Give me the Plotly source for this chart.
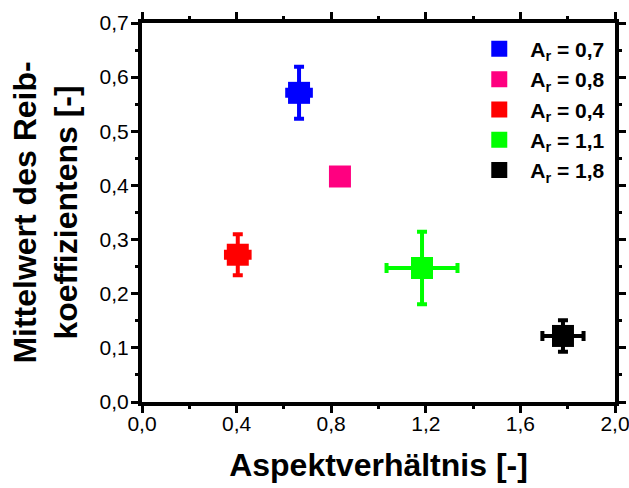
import plotly.graph_objects as go

labels = ["A<sub>r</sub> = 0,7", "A<sub>r</sub> = 0,8", "A<sub>r</sub> = 0,4", "A<sub>r</sub> = 1,1", "A<sub>r</sub> = 1,8"]
colors = ["#0000FF", "#FF0080", "#FF0000", "#00FF00", "#000000"]
x_vals = [0.664, 0.837, 0.405, 1.184, 1.78]
y_vals = [0.571, 0.4165, 0.272, 0.2475, 0.122]
x_err = [0.05, 0.0, 0.05, 0.15, 0.087]
y_err = [0.048, 0.0, 0.038, 0.067, 0.029]

FONT = "Liberation Sans, Arial, sans-serif"

fig = go.Figure()
for lab, c, x, y, ex, ey in zip(labels, colors, x_vals, y_vals, x_err, y_err):
    fig.add_trace(go.Scatter(
        x=[x], y=[y], mode="markers", name=lab,
        marker=dict(symbol="square", size=22, color=c, line=dict(width=0)),
        error_x=dict(type="data", array=[ex], visible=ex > 0, color=c, thickness=4, width=5),
        error_y=dict(type="data", array=[ey], visible=ey > 0, color=c, thickness=4, width=5),
    ))

axis_common = dict(
    showline=True, linewidth=4, linecolor="black", mirror="allticks",
    ticks="outside", ticklen=7, tickwidth=3, tickcolor="black",
    showgrid=False, zeroline=False,
    tickfont=dict(family=FONT, size=21, color="black"),
    tickformat=".1f",
    ticklabeloverflow="allow",
)

fig.update_xaxes(
    range=[0, 2.0], dtick=0.4, tick0=0,
    minor=dict(dtick=0.2, ticks="outside", ticklen=3, tickwidth=2.5, tickcolor="black"),
    ticklabelstandoff=-7,
    title=dict(text="<b>Aspektverhältnis [-]</b>", font=dict(family=FONT, size=32, color="black"), standoff=20),
    **axis_common,
)
fig.update_yaxes(
    range=[0, 0.7], dtick=0.1, tick0=0,
    minor=dict(dtick=0.05, ticks="outside", ticklen=3, tickwidth=2.5, tickcolor="black"),
    ticklabelstandoff=-2,
    title=dict(text="<b>Mittelwert des Reib-<br>koeffizientens [-]</b>", font=dict(family=FONT, size=32, color="black"), standoff=13),
    **axis_common,
)

fig.update_layout(
    width=629, height=488,
    margin=dict(l=142, r=14, t=23, b=86, autoexpand=False),
    plot_bgcolor="white", paper_bgcolor="white",
    separators=",.",
    showlegend=True,
    legend=dict(
        x=0.99, y=0.985, xanchor="right", yanchor="top",
        bgcolor="rgba(0,0,0,0)", borderwidth=0,
        font=dict(family=FONT, size=21, color="black", weight="bold"),
        itemwidth=52,
    ),
)

fig.write_html("out.html")
